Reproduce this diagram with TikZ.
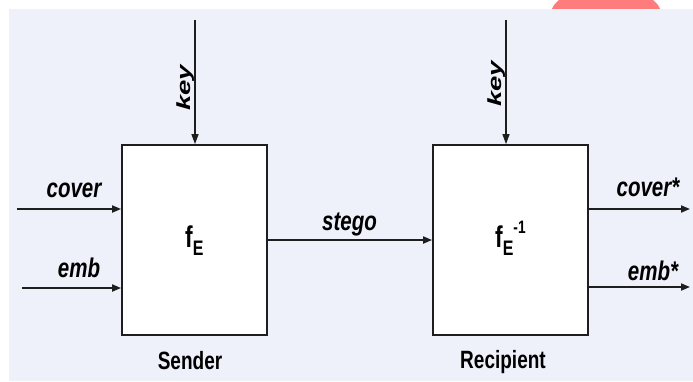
\documentclass[tikz,border=0pt]{standalone}
\usepackage{fontspec}
\setmainfont{Liberation Sans}
\newfontfamily\narrowfont{Liberation Sans}[FakeStretch=0.76]
\newfontfamily\widefont{Liberation Sans}[FakeStretch=1.45]
\usetikzlibrary{arrows.meta}
\definecolor{pagebg}{HTML}{EEF0FA}
\definecolor{inkline}{HTML}{1E1E1E}
\definecolor{blobred}{HTML}{FF7C7C}

\begin{document}
\begin{tikzpicture}[x=1pt,y=-1pt,
  block/.style={draw=inkline, line width=1.8pt, fill=white,
    minimum height=190pt, inner sep=0pt},
  flow/.style={draw=inkline, line width=1.8pt, -{Triangle[length=9pt,width=7pt]}},
  keyflow/.style={draw=inkline, line width=1.2pt, -{Triangle[length=10pt,width=7pt]}},
  sig/.style={font=\narrowfont\bfseries\itshape\fontsize{27}{27}\selectfont,
    inner sep=0pt, anchor=base},
  keylbl/.style={font=\widefont\bfseries\itshape\fontsize{19}{19}\selectfont,
    inner sep=0pt, anchor=base, rotate=90},
  role/.style={font=\narrowfont\bfseries\fontsize{25}{25}\selectfont,
    inner sep=0pt, anchor=base},
  func/.style={font=\narrowfont\bfseries, inner sep=0pt, anchor=base west}
]
\useasboundingbox (0,0) rectangle (693,381);
\fill[white] (0,0) rectangle (693,381);
\begin{scope}
  \clip (0,0) rectangle (693,9);
  \fill[blobred] (606,14) ellipse [x radius=55pt, y radius=27pt];
\end{scope}
\fill[pagebg] (9,9) rectangle (693,381);

% the two processing blocks
\node[block, minimum width=145pt] (sender) at (194.5,240) {};
\node[block, minimum width=155pt] (recipient) at (510.5,240) {};

% key inputs from above
\coordinate (keyA) at (195,20);
\coordinate (keyB) at (506,20);
\draw[keyflow] (keyA) -- (keyA |- sender.north);
\draw[keyflow] (keyB) -- (keyB |- recipient.north);

% sender inputs
\coordinate (coverin) at (17,209);
\coordinate (embin) at (22,288);
\draw[flow] (coverin) -- (coverin -| sender.west);
\draw[flow] (embin) -- (embin -| sender.west);

% channel
\draw[flow] (sender.east) -- (recipient.west);

% recipient outputs
\coordinate (coverout) at (690,209);
\coordinate (embout) at (690,287);
\draw[flow] (coverout -| recipient.east) -- (coverout);
\draw[flow] (embout -| recipient.east) -- (embout);

% labels
\node[sig] (lcover) at (74,197) {cover};
\node[sig] (lemb) at (79,277) {emb};
\node[sig] (lstego) at (349.5,230) {stego};
\node[sig] (lcoverout) at (648,196) {cover*};
\node[sig] (lembout) at (653,280) {emb*};
\node[keylbl] (lkeyA) at (190,88) {key};
\node[keylbl] (lkeyB) at (501,84) {key};
\node[role] (lsender) at (190,369) {Sender};
\node[role] (lrecip) at (503,368) {Recipient};

% block functions
\node[func] (fenc) at (185,247)
  {\fontsize{30}{30}\selectfont f\raisebox{-8pt}{\fontsize{21}{21}\selectfont E}};
\node[func] (fdec) at (495,247)
  {\fontsize{30}{30}\selectfont f\raisebox{-8pt}{\fontsize{21}{21}\selectfont E}\raisebox{14pt}{\fontsize{18}{18}\selectfont -1}};
\end{tikzpicture}
\end{document}
